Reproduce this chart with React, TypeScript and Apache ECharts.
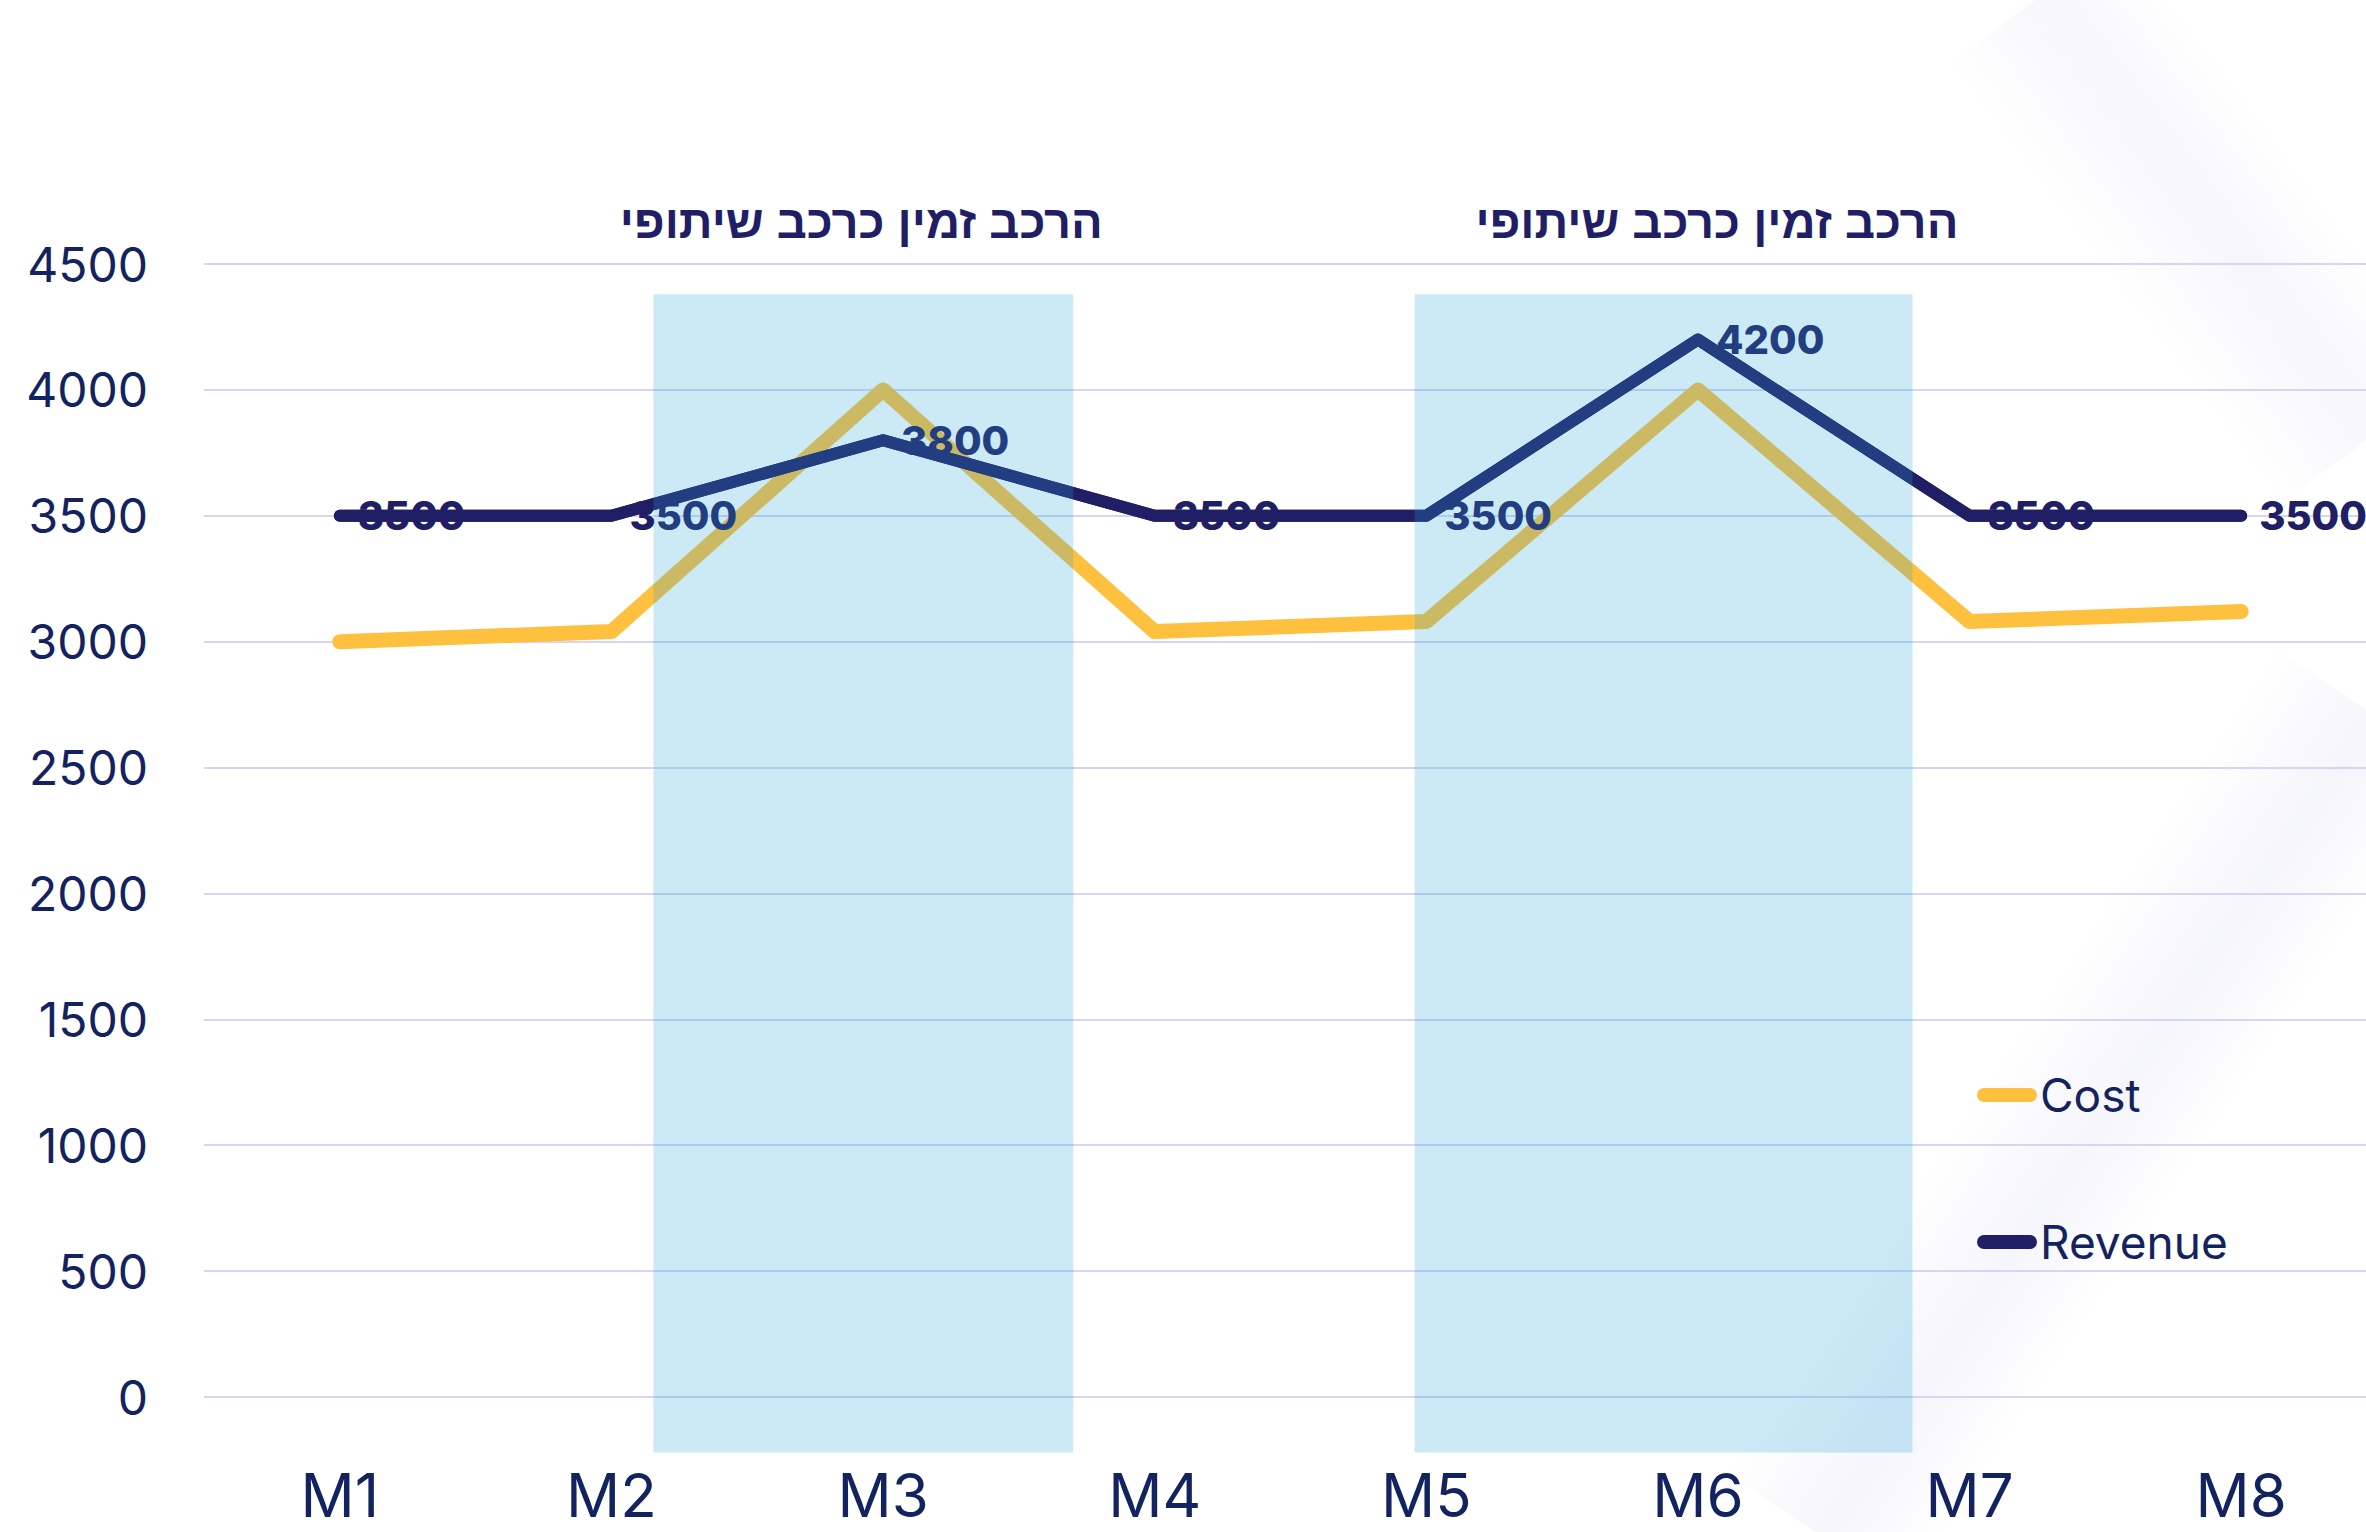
import React, { useEffect, useRef } from 'react';
import * as echarts from 'echarts';

// ---- data ----
const categories = ['M1', 'M2', 'M3', 'M4', 'M5', 'M6', 'M7', 'M8'];
const costValues = [3000, 3040, 4000, 3040, 3080, 4000, 3080, 3120];
const revenueValues = [3500, 3500, 3800, 3500, 3500, 4200, 3500, 3500];
const yMin = 0;
const yMax = 4500;
const yStep = 500;
const seriesNames = ['Cost', 'Revenue'];

// highlighted periods (in category-index units) and their captions
const bandTitles = ['הרכב זמין כרכב שיתופי', 'הרכב זמין כרכב שיתופי'];
const bandFrom = [1.155, 3.957];
const bandTo = [2.7, 5.79];
const bandTop = 4380;
const bandBottom = -220;
const bandTitleX = [1.92, 5.07];
const bandTitleY = 4670;

export default function App() {
  const ref = useRef<HTMLDivElement>(null);

  useEffect(() => {
    document.body.style.margin = '0';
    document.body.style.overflow = 'hidden';
    document.documentElement.style.overflow = 'hidden';
    const chart = echarts.init(ref.current as HTMLDivElement, null, { renderer: 'svg' });
    const navy = '#201e64';
    const yellow = '#fec03f';
    const textBlue = '#12235f';
    const font = 'Inter';

    const bandData = bandFrom.map((f, i) => [f, bandTo[i], bandTop, bandBottom]);
    const titleData = bandTitleX.map((x, i) => [x, bandTitleY, i]);

    const streak = (ax: number, ay: number, bx: number, by: number, w: number, alpha: number) => {
      const dx = bx - ax;
      const dy = by - ay;
      const len = Math.sqrt(dx * dx + dy * dy);
      const nx = dy / len;
      const ny = -dx / len;
      return {
        type: 'polygon',
        silent: true,
        z: -10,
        shape: {
          points: [
            [ax + w * nx, ay + w * ny],
            [bx + w * nx, by + w * ny],
            [bx - w * nx, by - w * ny],
            [ax - w * nx, ay - w * ny],
          ],
        },
        style: {
          fill: new echarts.graphic.LinearGradient(
            ax - w * nx, ay - w * ny, ax + w * nx, ay + w * ny,
            [
              { offset: 0, color: 'rgba(220,222,242,0)' },
              { offset: 0.55, color: `rgba(220,222,242,${alpha})` },
              { offset: 1, color: 'rgba(220,222,242,0)' },
            ],
            true
          ),
        },
      };
    };

    chart.setOption({
      animation: false,
      backgroundColor: '#ffffff',
      graphic: [
        streak(2035, 0, 2366, 440, 110, 0.24),
        streak(2366, 710, 1815, 1532, 110, 0.28),
      ],
      grid: { left: 204, top: 264, width: 2173, height: 1133, containLabel: false },
      legend: {
        data: seriesNames,
        orient: 'vertical',
        left: 1972,
        top: 1067,
        itemWidth: 60,
        itemHeight: 14,
        itemGap: 101,
        icon: 'path://M7,0 H53 A7,7 0 0 1 53,14 H7 A7,7 0 0 1 7,0 Z',
        textStyle: { fontFamily: font, fontSize: 46, color: textBlue, padding: [0, 0, 0, -2] },
      },
      xAxis: [
        {
          type: 'category',
          data: categories,
          boundaryGap: true,
          axisLine: { show: false },
          axisTick: { show: false },
          axisLabel: { fontFamily: font, fontSize: 60, lineHeight: 56, color: textBlue, margin: 70 },
        },
        { type: 'value', min: -0.5, max: 7.5, show: false },
      ],
      yAxis: {
        type: 'value',
        min: yMin,
        max: yMax,
        interval: yStep,
        axisLine: { show: false },
        axisTick: { show: false },
        axisLabel: {
          fontFamily: font,
          fontSize: 48,
          color: textBlue,
          margin: 56,
          padding: [0, 0, 8, 0],
          formatter: (v: number) => String(v),
        },
        splitLine: { lineStyle: { color: '#d6d6f3', width: 2 } },
      },
      series: [
        {
          name: 'Cost',
          type: 'line',
          data: costValues,
          showSymbol: false,
          symbol: 'none',
          color: yellow,
          z: 2,
          lineStyle: { color: yellow, width: 15, cap: 'round', join: 'round' },
        },
        {
          name: 'Revenue',
          type: 'line',
          data: revenueValues,
          showSymbol: true,
          symbol: 'circle',
          symbolSize: 2,
          color: navy,
          itemStyle: { color: navy },
          z: 2,
          lineStyle: { color: navy, width: 12, cap: 'round', join: 'round' },
          label: {
            show: true,
            position: 'right',
            distance: 17,
            fontFamily: font,
            fontWeight: 800,
            fontSize: 40,
            color: navy,
          },
          labelLayout: { hideOverlap: false },
        },
        {
          name: 'RevenueOverlay',
          type: 'line',
          data: revenueValues,
          showSymbol: false,
          symbol: 'none',
          silent: true,
          z: 3,
          lineStyle: { color: navy, width: 12, cap: 'round', join: 'round' },
        },
        {
          name: 'bands',
          type: 'custom',
          xAxisIndex: 1,
          yAxisIndex: 0,
          z: 10,
          silent: true,
          clip: false,
          data: bandData,
          encode: { x: [0, 1], y: [2, 3] },
          renderItem: (params: any, api: any) => {
            const p1 = api.coord([api.value(0), api.value(2)]);
            const p2 = api.coord([api.value(1), api.value(3)]);
            return {
              type: 'rect',
              shape: { x: p1[0], y: p1[1], width: p2[0] - p1[0], height: p2[1] - p1[1] },
              style: { fill: 'rgba(42,163,218,0.24)' },
            };
          },
        },
        {
          name: 'bandTitles',
          type: 'custom',
          xAxisIndex: 1,
          yAxisIndex: 0,
          z: 11,
          silent: true,
          clip: false,
          data: titleData,
          encode: { x: 0, y: 1 },
          renderItem: (params: any, api: any) => {
            const p = api.coord([api.value(0), api.value(1)]);
            return {
              type: 'text',
              x: p[0],
              y: p[1],
              style: {
                text: bandTitles[api.value(2)],
                fill: navy,
                fontFamily: 'Liberation Sans',
                fontWeight: 'bold',
                fontSize: 47,
                align: 'center',
                verticalAlign: 'middle',
              },
            };
          },
        },
      ],
    });

    return () => chart.dispose();
  }, []);

  return (
    <div
      ref={ref}
      style={{ position: 'absolute', left: 0, top: 0, width: 2400, height: 1532 }}
    />
  );
}
